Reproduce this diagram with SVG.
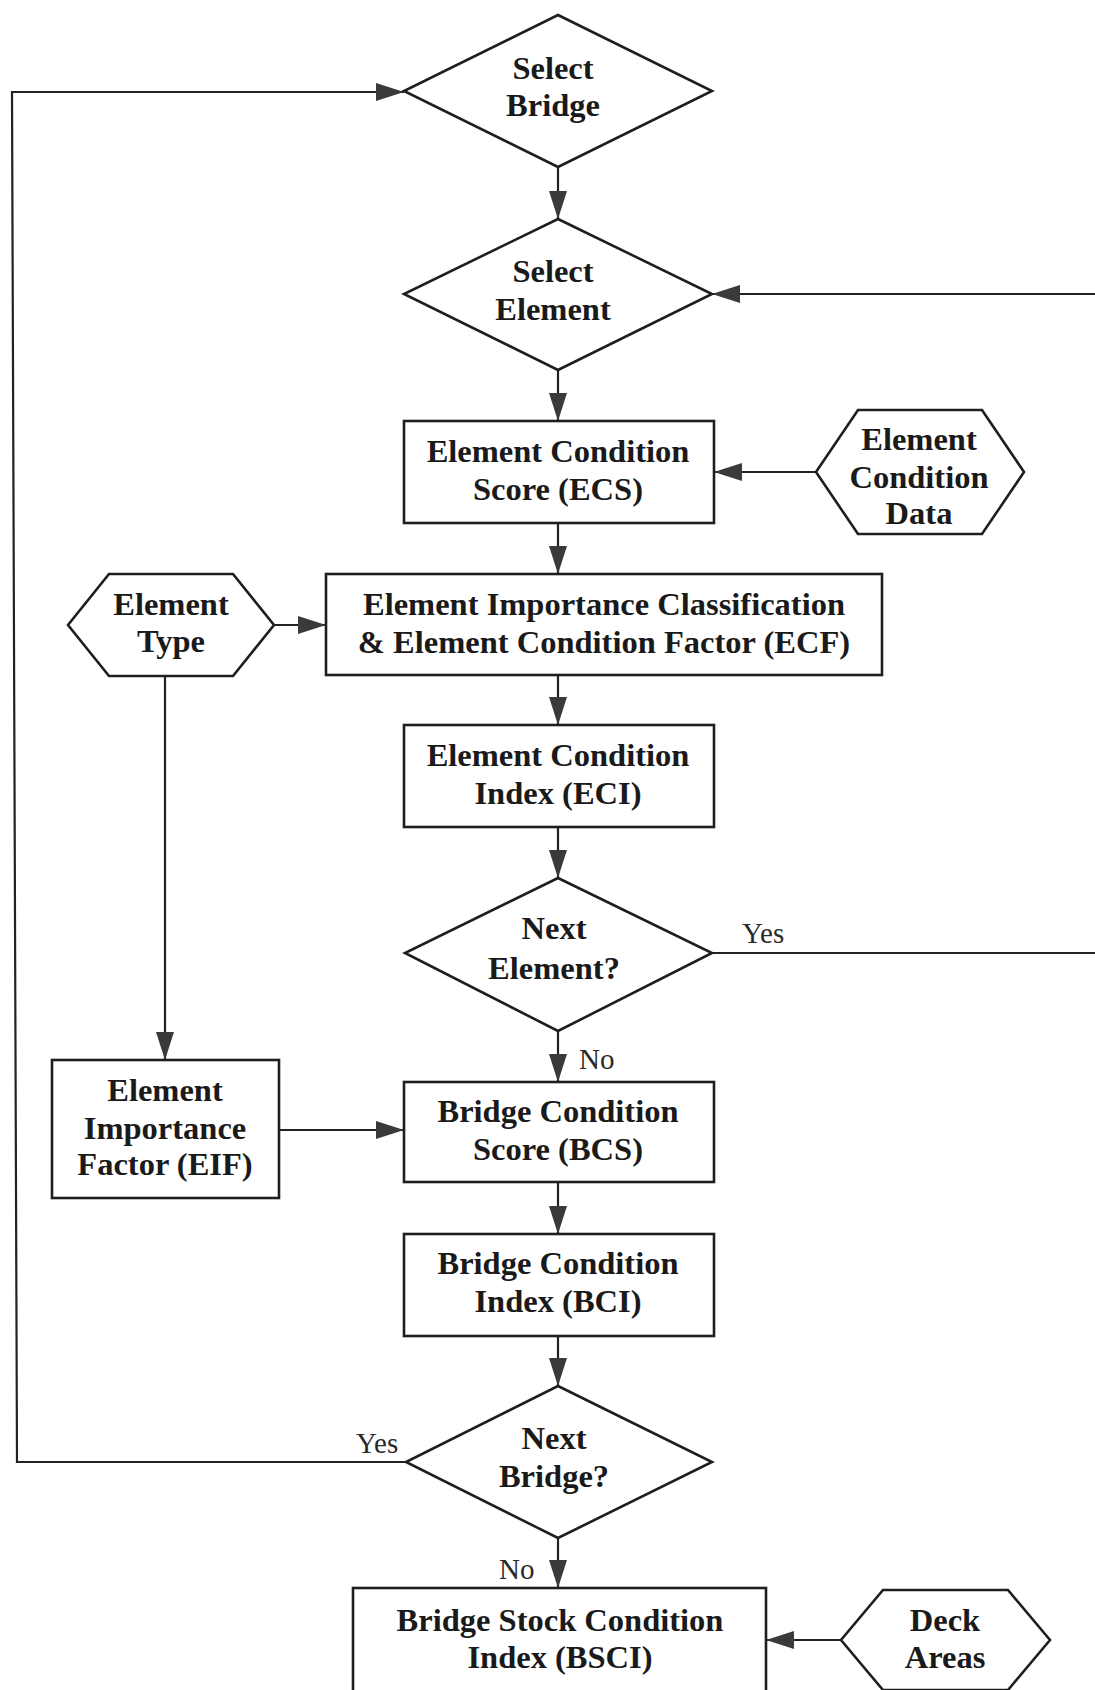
<svg xmlns="http://www.w3.org/2000/svg" width="1095" height="1690" viewBox="0 0 1095 1690">
  <defs>
    <marker id="arrow" viewBox="0 0 28 18" refX="28" refY="9" markerWidth="28" markerHeight="18" markerUnits="userSpaceOnUse" orient="auto">
      <path d="M0,0 L28,9 L0,18 Z" fill="#3a3a3a"/>
    </marker>
    <style>
      .shape { fill: #ffffff; stroke: #1e1e1e; stroke-width: 2.6; }
      .link { fill: none; stroke: #222222; stroke-width: 2.2; }
      .lbl { font-family: "Liberation Serif", "Times New Roman", serif; font-weight: bold; font-size: 32.5px; fill: #1a1a1a; text-anchor: middle; }
      .tag { font-family: "Liberation Serif", "Times New Roman", serif; font-size: 29px; fill: #2a2a2a; }
    </style>
  </defs>
  <rect x="0" y="0" width="1095" height="1690" fill="#ffffff"/>

  <!-- connectors -->
  <g id="connectors">
    <path class="link" d="M406,1462 H17 L12,92 H404" marker-end="url(#arrow)"/>
    <path class="link" d="M558,167 V219" marker-end="url(#arrow)"/>
    <path class="link" d="M558,370 V421" marker-end="url(#arrow)"/>
    <path class="link" d="M712,953 H1101 V294 H712" marker-end="url(#arrow)"/>
    <path class="link" d="M816,472 H714" marker-end="url(#arrow)"/>
    <path class="link" d="M558,523 V574" marker-end="url(#arrow)"/>
    <path class="link" d="M274,625 H326" marker-end="url(#arrow)"/>
    <path class="link" d="M558,675 V725" marker-end="url(#arrow)"/>
    <path class="link" d="M558,827 V878" marker-end="url(#arrow)"/>
    <path class="link" d="M165,676 V1060" marker-end="url(#arrow)"/>
    <path class="link" d="M558,1031 V1082" marker-end="url(#arrow)"/>
    <path class="link" d="M279,1130 H404" marker-end="url(#arrow)"/>
    <path class="link" d="M558,1182 V1234" marker-end="url(#arrow)"/>
    <path class="link" d="M558,1336 V1386" marker-end="url(#arrow)"/>
    <path class="link" d="M558,1538 V1588" marker-end="url(#arrow)"/>
    <path class="link" d="M841,1640 H766" marker-end="url(#arrow)"/>
    <text class="tag" x="742" y="943">Yes</text>
    <text class="tag" x="579" y="1069">No</text>
    <text class="tag" x="356" y="1453">Yes</text>
    <text class="tag" x="499" y="1579">No</text>
  </g>

  <!-- decisions -->
  <g id="select-bridge">
    <polygon class="shape" points="558,15 712,91 558,167 404,91"/>
    <text class="lbl" x="553" y="79">Select</text>
    <text class="lbl" x="553" y="116">Bridge</text>
  </g>
  <g id="select-element">
    <polygon class="shape" points="558,219 712,294 558,370 404,294"/>
    <text class="lbl" x="553" y="282">Select</text>
    <text class="lbl" x="553" y="320">Element</text>
  </g>

  <!-- process boxes -->
  <g id="ecs">
    <rect class="shape" x="404" y="421" width="310" height="102"/>
    <text class="lbl" x="558" y="462">Element Condition</text>
    <text class="lbl" x="558" y="500">Score (ECS)</text>
  </g>
  <g id="element-condition-data">
    <polygon class="shape" points="858,410 982,410 1024,472 982,534 858,534 816,472"/>
    <text class="lbl" x="919" y="450">Element</text>
    <text class="lbl" x="919" y="488">Condition</text>
    <text class="lbl" x="919" y="524">Data</text>
  </g>
  <g id="element-type">
    <polygon class="shape" points="109,574 233,574 274,625 233,676 109,676 68,625"/>
    <text class="lbl" x="171" y="615">Element</text>
    <text class="lbl" x="171" y="652">Type</text>
  </g>
  <g id="ecf">
    <rect class="shape" x="326" y="574" width="556" height="101"/>
    <text class="lbl" x="604" y="615">Element Importance Classification</text>
    <text class="lbl" x="604" y="653">&amp; Element Condition Factor (ECF)</text>
  </g>
  <g id="eci">
    <rect class="shape" x="404" y="725" width="310" height="102"/>
    <text class="lbl" x="558" y="766">Element Condition</text>
    <text class="lbl" x="558" y="804">Index (ECI)</text>
  </g>
  <g id="next-element">
    <polygon class="shape" points="558,878 712,953 558,1031 405,953"/>
    <text class="lbl" x="554" y="939">Next</text>
    <text class="lbl" x="554" y="979">Element?</text>
  </g>
  <g id="eif">
    <rect class="shape" x="52" y="1060" width="227" height="138"/>
    <text class="lbl" x="165" y="1101">Element</text>
    <text class="lbl" x="165" y="1139">Importance</text>
    <text class="lbl" x="165" y="1175">Factor (EIF)</text>
  </g>
  <g id="bcs">
    <rect class="shape" x="404" y="1082" width="310" height="100"/>
    <text class="lbl" x="558" y="1122">Bridge Condition</text>
    <text class="lbl" x="558" y="1160">Score (BCS)</text>
  </g>
  <g id="bci">
    <rect class="shape" x="404" y="1234" width="310" height="102"/>
    <text class="lbl" x="558" y="1274">Bridge Condition</text>
    <text class="lbl" x="558" y="1312">Index (BCI)</text>
  </g>
  <g id="next-bridge">
    <polygon class="shape" points="558,1386 712,1462 558,1538 406,1462"/>
    <text class="lbl" x="554" y="1449">Next</text>
    <text class="lbl" x="554" y="1487">Bridge?</text>
  </g>
  <g id="bsci">
    <rect class="shape" x="353" y="1588" width="413" height="110"/>
    <text class="lbl" x="560" y="1631">Bridge Stock Condition</text>
    <text class="lbl" x="560" y="1668">Index (BSCI)</text>
  </g>
  <g id="deck-areas">
    <polygon class="shape" points="883,1590 1008,1590 1050,1640 1008,1690 883,1690 841,1640"/>
    <text class="lbl" x="945" y="1631">Deck</text>
    <text class="lbl" x="945" y="1668">Areas</text>
  </g>
</svg>
